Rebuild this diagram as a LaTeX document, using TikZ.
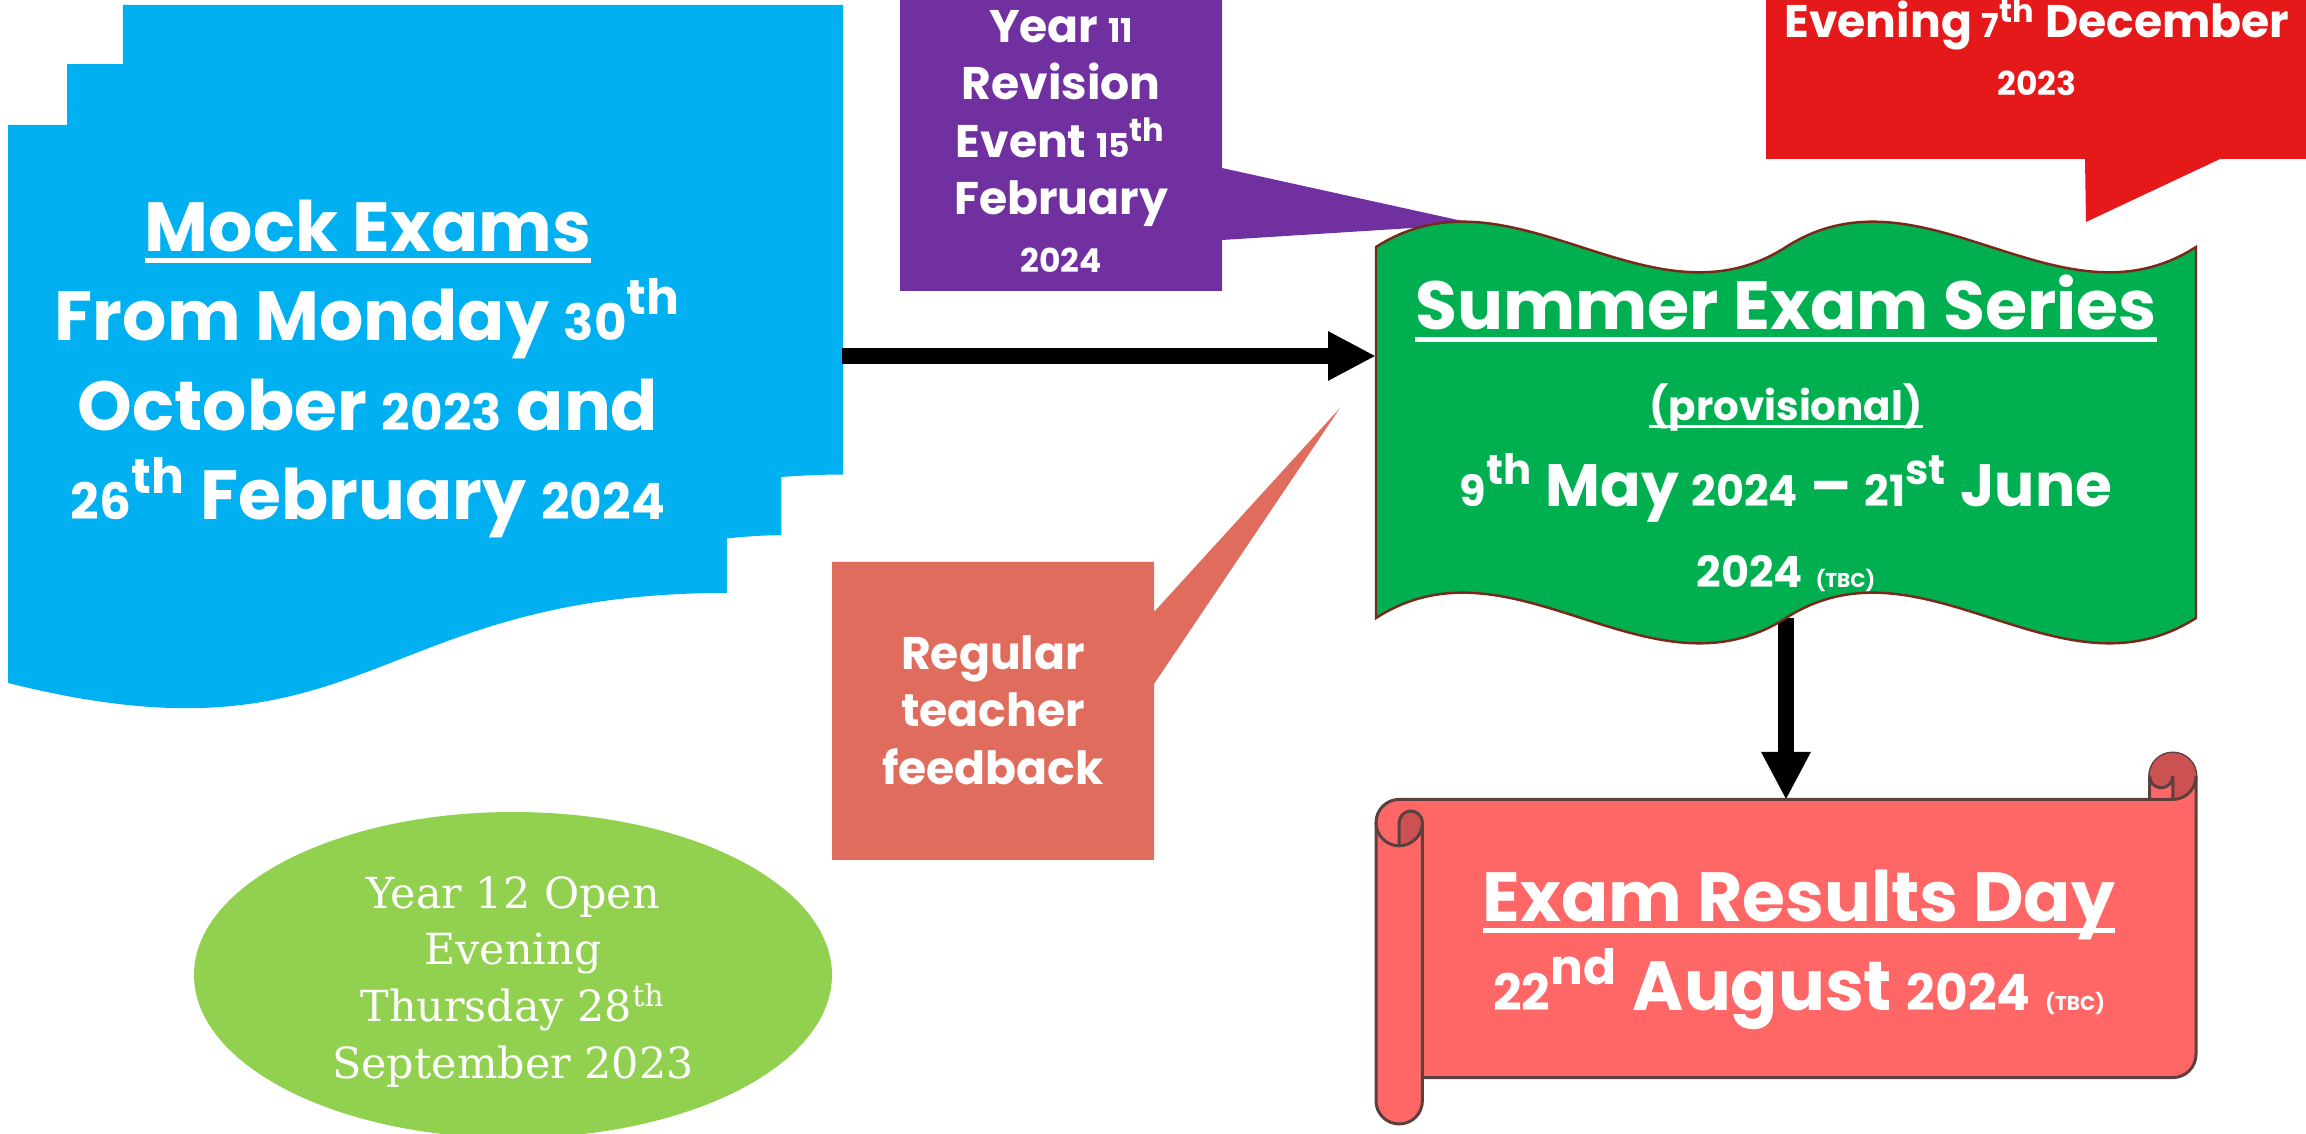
\documentclass[tikz,border=0pt]{standalone}
\usepackage{fontspec}
\usepackage{graphicx}
\setmainfont{Poppins}
\newfontfamily\slabfont{DejaVu Serif}
\usetikzlibrary{arrows.meta}
\usetikzlibrary{shapes.geometric}

\definecolor{mockblue}{RGB}{0,176,240}
\definecolor{revpurple}{RGB}{112,48,160}
\definecolor{eveningred}{RGB}{229,25,26}
\definecolor{summergreen}{RGB}{0,176,80}
\definecolor{waveedge}{RGB}{122,40,28}
\definecolor{scrollpink}{RGB}{255,102,102}
\definecolor{scrolldark}{RGB}{204,82,82}
\definecolor{scrolledge}{RGB}{92,64,64}
\definecolor{feedbackcoral}{RGB}{224,108,94}
\definecolor{openlime}{RGB}{146,208,80}

\newcommand{\yr}[1]{\scalebox{0.72}{#1}}
\newcommand{\ulbox}[1]{\setbox0\hbox{#1}\rlap{\rule[-0.17em]{\wd0}{0.07em}}\box0}
\newcommand{\tbc}{\fontsize{5.7}{7}\selectfont}

\begin{document}
\begin{tikzpicture}[x=0.1mm, y=-0.1mm,
    bigtext/.style={text=white, align=center, font=\bfseries\fontsize{19.8}{25.5}\selectfont},
    midtext/.style={text=white, align=center, font=\bfseries\fontsize{13}{16.36}\selectfont},
    datetext/.style={text=white, font=\bfseries\fontsize{17}{20}\selectfont},
    serifext/.style={text=white, align=center, font=\slabfont\fontsize{12.2}{16.2}\selectfont},
    bigarrow/.style={line width=1.6mm, -{Triangle[length=4.8mm, width=4.6mm]}}
  ]
  \useasboundingbox (0,0) rectangle (2306,1134);
  \clip (0,0) rectangle (2306,1134);

  % stacked pages
  \begin{scope}[shift={(8,5)}, xscale=0.03867, yscale=0.03262]
    \fill[mockblue] (2972,1815) -- (2972,0) -- (21600,0) -- (21600,14392)
      .. controls (20800,14392) and (20000,14467) .. (20000,14467) -- cycle;
    \fill[mockblue] (1532,3675) -- (1532,1815) -- (20000,1815) -- (20000,16252)
      .. controls (19298,16252) and (18595,16352) .. (18595,16352) -- cycle;
    \fill[mockblue] (0,20782) .. controls (9298,23542) and (9298,18022) .. (18595,18022)
      -- (18595,3675) -- (0,3675) -- cycle;
  \end{scope}
  \node[bigtext] (mock) at (368,369) {\ulbox{Mock Exams}\\From Monday \yr{30}\textsuperscript{th}\\October \yr{2023} and\\\yr{26}\textsuperscript{th} February \yr{2024}};

  % callouts
  \fill[revpurple] (900,-100) -- (1222,-100) -- (1222,168) -- (1476,224) -- (1222,240)
    -- (1222,291) -- (900,291) -- cycle;
  \node[midtext] (revision) at (1061,141) {Year \yr{11}\\Revision\\Event \yr{15}\textsuperscript{th}\\February\\\yr{2024}};

  \fill[eveningred] (1766,-100) -- (2400,-100) -- (2400,159) -- (2220,159) -- (2086,222)
    -- (2085,159) -- (1766,159) -- cycle;
  \node[midtext] (parentev) at (2037,47) {Evening \yr{7}\textsuperscript{th} December\\\yr{2023}};

  \fill[feedbackcoral] (832,562) -- (1154,562) -- (1154,612) -- (1340,408) -- (1154,684)
    -- (1154,860) -- (832,860) -- cycle;
  \node[midtext] (feedback) at (993,710) {Regular\\teacher\\feedback};

  % connectors
  \coordinate (mock-e) at (842,356);
  \coordinate (wave-w) at (1376,356);
  \coordinate (wave-s) at (1786,618);
  \coordinate (scroll-n) at (1786,800);
  \draw[bigarrow] (mock-e) -- (wave-w);
  \draw[bigarrow] (wave-s) -- (scroll-n);

  % double wave
  \filldraw[fill=summergreen, draw=waveedge, line width=0.7pt]
    (1376,247) .. controls (1512.7,159.3) and (1649.3,334.7) .. (1786,247)
    .. controls (1922.7,159.3) and (2059.3,334.7) .. (2196,247)
    -- (2196,618) .. controls (2059.3,705.7) and (1922.7,530.3) .. (1786,618)
    .. controls (1649.3,705.7) and (1512.7,530.3) .. (1376,618) -- cycle;
  \node[bigtext, font=\bfseries\fontsize{19.4}{24}\selectfont, anchor=base] (summer) at (1786,330) {\ulbox{Summer Exam Series}};
  \node[text=white, font=\bfseries\fontsize{11.5}{14}\selectfont, anchor=base] (prov) at (1786,421) {\ulbox{(provisional)}};
  \node[datetext, anchor=base] (dates) at (1786,507) {\yr{9}\textsuperscript{th} May \yr{2024} – \yr{21}\textsuperscript{st} June};
  \node[datetext, anchor=base] (tbcyear) at (1786,588) {\yr{2024} {\tbc (TBC)}};

  % scroll
  \begin{scope}[shift={(1376,753)}]
    \filldraw[fill=scrollpink, draw=scrolledge, line width=0.85pt]
      (0,69.6) arc[start angle=180, delta angle=90, radius=23.2] -- (773.6,46.4) -- (773.6,23.2)
      arc[start angle=180, delta angle=180, radius=23.2] -- (820,301.4)
      arc[start angle=0, delta angle=90, radius=23.2] -- (46.4,324.6) -- (46.4,347.8)
      arc[start angle=0, delta angle=180, radius=23.2] -- cycle;
    \fill[scrolldark] (23.2,92.8) arc[start angle=90, delta angle=-90, radius=23.2]
      arc[start angle=0, delta angle=-180, radius=11.6] -- cycle;
    \fill[scrolldark] (796.8,46.4) arc[start angle=90, delta angle=-270, radius=23.2]
      arc[start angle=180, delta angle=-180, radius=11.6] -- cycle;
    \draw[scrolledge, line width=0.85pt]
      (773.6,46.4) -- (796.8,46.4) arc[start angle=90, delta angle=-90, radius=23.2]
      (796.8,46.4) -- (796.8,23.2) arc[start angle=0, delta angle=180, radius=11.6]
      (23.2,92.8) -- (23.2,69.6) arc[start angle=180, delta angle=180, radius=11.6]
      arc[start angle=0, delta angle=180, radius=23.2]
      (46.4,69.6) -- (46.4,324.6);
  \end{scope}
  \node[bigtext] (results) at (1799,950) {\ulbox{Exam Results Day}\\\yr{22}\textsuperscript{nd} August \yr{2024} {\tbc (TBC)}};

  % open evening
  \node[ellipse, fill=openlime, minimum width=63.8mm, minimum height=32.6mm, inner sep=0pt] (openev) at (513,975) {};
  \node[serifext] (openevtext) at (513,982) {Year 12 Open\\Evening\\Thursday 28\textsuperscript{th}\\September 2023};
\end{tikzpicture}
\end{document}
